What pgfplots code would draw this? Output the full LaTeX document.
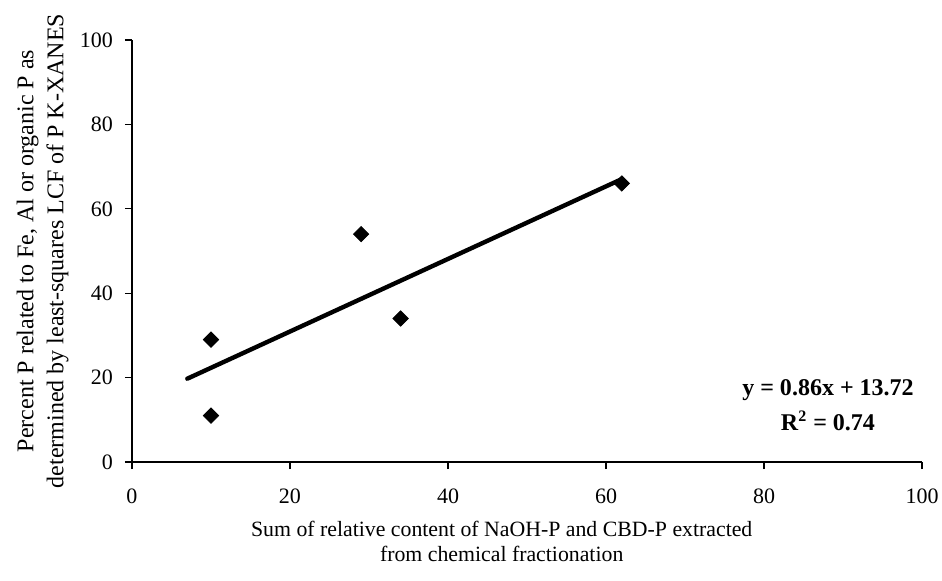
\documentclass[border=0pt]{standalone}
\usepackage{pgfplots}
\pgfplotsset{compat=1.18}
\usepackage{fontspec}
\setmainfont{Liberation Serif}
\begin{document}
\begin{tikzpicture}
\begin{axis}[
  scale only axis,
  width=395pt, height=211pt,
  xmin=0, xmax=100, ymin=0, ymax=100,
  xtick={0,20,...,100}, ytick={0,20,...,100},
  axis x line*=bottom, axis y line*=left,
  axis line style={line width=0.6pt},
  tick style={black, line width=0.6pt},
  tick align=outside, major tick length=3.5pt,
  x axis line style={-}, y axis line style={-},
  /pgf/number format/assume math mode=true,
  ticklabel style={font=\fontsize{11}{13}\selectfont},
  xticklabel style={yshift=-6.5pt},
  yticklabel style={xshift=-2.5pt},
  xlabel={Sum of relative content of NaOH-P and CBD-P extracted\\from chemical fractionation},
  ylabel={Percent P related to Fe, Al or organic P as\\determined by least-squares LCF of P K-XANES},
  xlabel style={font=\fontsize{10.9}{12.5}\selectfont, align=center, at={(axis description cs:0.468,0)}, anchor=center, yshift=-39.5pt},
  ylabel style={font=\fontsize{12}{15}\selectfont, align=center, at={(axis description cs:-0.113,0.5)}, anchor=center},
  clip=false,
]
\coordinate (O) at (rel axis cs:0,0);
\addplot[only marks, mark=square*, mark options={rotate=45}, mark size=2.7pt, black] coordinates {
  (10,11) (10,29) (29,54) (34,34) (62,66)
};
\addplot[black, line width=2.2pt, line cap=round] coordinates {(7,19.74) (62,67.04)};
\node[font=\bfseries\fontsize{12}{17.5}\selectfont, align=center] at (axis cs:88.1,13.5) {y = 0.86x + 13.72\\R\textsuperscript{2} = 0.74};
\end{axis}
\pgfresetboundingbox
\path ([xshift=-66pt,yshift=-59pt]O) rectangle ++(471pt,290pt);
\end{tikzpicture}
\end{document}
